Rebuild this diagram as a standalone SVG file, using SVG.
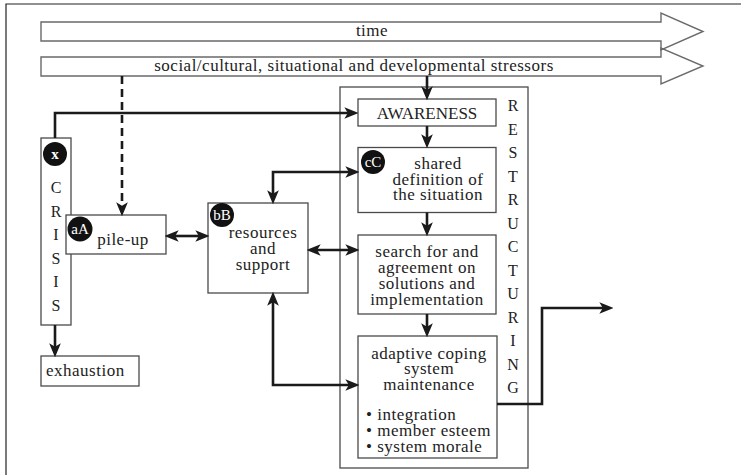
<svg xmlns="http://www.w3.org/2000/svg" width="741" height="475" viewBox="0 0 741 475" font-family="'Liberation Serif', 'Times New Roman', serif">
<defs>
<style>
text{font-family:'Liberation Serif','Times New Roman',serif}
.box{fill:#fff;stroke:#4a4a4a;stroke-width:1.3}
.band{fill:none;stroke:#6a6a6a;stroke-width:1.4}
.t{font-size:17px;fill:#222;letter-spacing:0.5px}
.cap{letter-spacing:0}
.m{text-anchor:middle}
.caps{font-size:16px;fill:#222;text-anchor:middle}
.badge{fill:#111}
.bt{font-size:15px;fill:#fff;text-anchor:middle}
.c{fill:none;stroke:#1a1a1a;stroke-width:2.6}
.one{marker-end:url(#ah)}
.two{marker-start:url(#ah);marker-end:url(#ah)}
.dash{stroke-dasharray:8 5}
</style>
<marker id="ah" markerUnits="userSpaceOnUse" markerWidth="14" markerHeight="12" refX="4" refY="5" orient="auto-start-reverse" viewBox="0 0 12 10">
<path d="M0,0 L12,5 L0,10 L3,5 z" fill="#1a1a1a"/>
</marker>
</defs>

<path d="M6,475 V4 H741" fill="none" stroke="#222" stroke-width="1.2"/>

<g id="time">
<polygon class="band" points="41,22 661,22 661,13 703,31.5 661,50 661,41 41,41"/>
<text class="t m" x="372" y="36">time</text>
</g>
<g id="stressors">
<polygon class="band" points="41,57 661,57 661,48 703,66 661,84 661,76 41,76"/>
<text class="t m" x="354" y="71">social/cultural, situational and developmental stressors</text>
</g>

<g id="crisis">
<rect class="box" x="41" y="138" width="30" height="187"/>
<circle class="badge" cx="55" cy="154" r="12"/>
<text class="bt" x="55" y="159" font-weight="bold" font-size="17">x</text>
<text class="caps" x="56" y="193">C</text>
<text class="caps" x="56" y="216.5">R</text>
<text class="caps" x="56" y="240">I</text>
<text class="caps" x="56" y="263.5">S</text>
<text class="caps" x="56" y="287">I</text>
<text class="caps" x="56" y="310.5">S</text>
</g>

<g id="exhaustion">
<rect class="box" x="41" y="356" width="98" height="30"/>
<text class="t" x="46" y="376">exhaustion</text>
</g>

<g id="pileup">
<rect class="box" x="66" y="215" width="100" height="39"/>
<circle class="badge" cx="80" cy="229" r="12.5"/>
<text class="bt" x="80" y="234">aA</text>
<text class="t m" x="123" y="245">pile-up</text>
</g>

<g id="resources">
<rect class="box" x="208" y="203" width="100" height="90"/>
<circle class="badge" cx="222" cy="215" r="12"/>
<text class="bt" x="222" y="220">bB</text>
<text class="t m" x="263" y="238">resources<tspan x="263" dy="16">and</tspan><tspan x="263" dy="16">support</tspan></text>
</g>

<g id="restructuring">
<rect class="box" x="340" y="87" width="188" height="381"/>
<text class="caps" x="513" y="111">R</text>
<text class="caps" x="513" y="134.5">E</text>
<text class="caps" x="513" y="158">S</text>
<text class="caps" x="513" y="181.5">T</text>
<text class="caps" x="513" y="205">R</text>
<text class="caps" x="513" y="228.5">U</text>
<text class="caps" x="513" y="252">C</text>
<text class="caps" x="513" y="275.5">T</text>
<text class="caps" x="513" y="299">U</text>
<text class="caps" x="513" y="322.5">R</text>
<text class="caps" x="513" y="346">I</text>
<text class="caps" x="513" y="369.5">N</text>
<text class="caps" x="513" y="393">G</text>
</g>

<g id="awareness">
<rect class="box" x="358" y="99" width="138" height="27"/>
<text class="t m cap" x="427" y="119">AWARENESS</text>
</g>

<g id="shared">
<rect class="box" x="358" y="147.5" width="138" height="65"/>
<circle class="badge" cx="373" cy="162" r="12"/>
<text class="bt" x="373" y="167">cC</text>
<text class="t m" x="438" y="169">shared<tspan x="438" dy="15.5">definition of</tspan><tspan x="438" dy="15.5">the situation</tspan></text>
</g>

<g id="search">
<rect class="box" x="358" y="235" width="138" height="79"/>
<text class="t m" x="427" y="257">search for and<tspan x="427" dy="16">agreement on</tspan><tspan x="427" dy="16">solutions and</tspan><tspan x="427" dy="16">implementation</tspan></text>
</g>

<g id="adaptive">
<rect class="box" x="358" y="336" width="139" height="122"/>
<text class="t m" x="429" y="358.5">adaptive coping<tspan x="429" dy="15.5">system</tspan><tspan x="429" dy="16">maintenance</tspan></text>
<text class="t" x="366" y="420">• integration<tspan x="366" dy="16">• member esteem</tspan><tspan x="366" dy="16">• system morale</tspan></text>
</g>

<g id="connectors">
<path class="c one dash" d="M122,76 V207"/>
<path class="c one" d="M55,138 V113 H349"/>
<path class="c one" d="M55,325 V348"/>
<path class="c two" d="M174,236 H200"/>
<path class="c two" d="M273,195 V172 H350"/>
<path class="c two" d="M316,250 H350"/>
<path class="c two" d="M273,301 V385 H350"/>
<path class="c one" d="M427,76 V91"/>
<path class="c one" d="M427,126 V139"/>
<path class="c one" d="M427,212.5 V227"/>
<path class="c one" d="M427,314 V328"/>
<path class="c one" d="M497,404 H542 V308 H604"/>
</g>
</svg>
